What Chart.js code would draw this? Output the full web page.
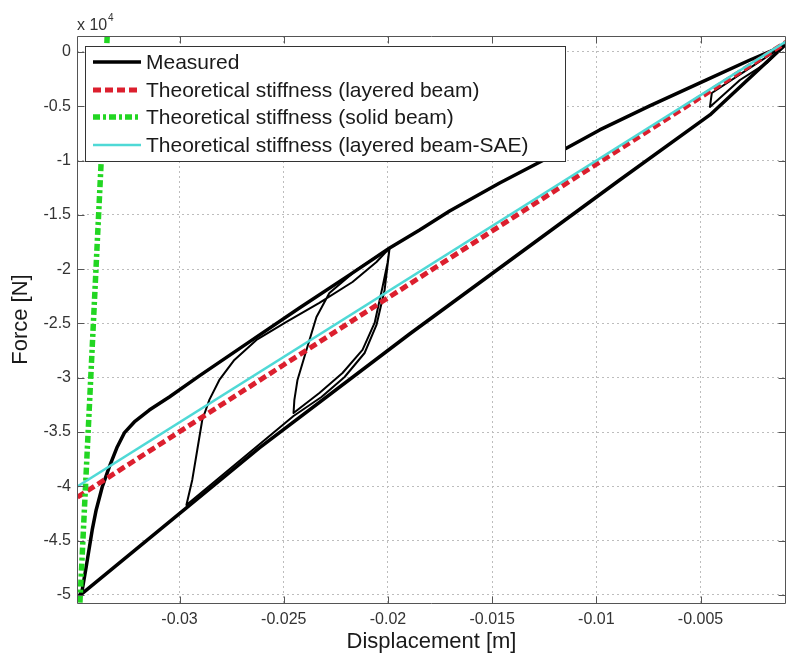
<!DOCTYPE html>
<html>
<head>
<meta charset="utf-8">
<script src="https://cdn.jsdelivr.net/npm/chart.js@4/dist/chart.umd.min.js"></script>
<style>
  html, body { margin: 0; padding: 0; background: #fff; overflow: hidden; }
  #wrap { width: 786px; height: 656px; }
</style>
</head>
<body>
<div id="wrap"><canvas id="c" width="786" height="656"></canvas></div>
<script>
// ---- tick labels ----
const xTicks = [-0.03, -0.025, -0.02, -0.015, -0.01, -0.005];
const yTicks = [0, -0.5, -1, -1.5, -2, -2.5, -3, -3.5, -4, -4.5, -5];

// ---- series labels ----
const seriesLabels = [
  'Measured',
  'Theoretical stiffness (layered beam)',
  'Theoretical stiffness (solid beam)',
  'Theoretical stiffness (layered beam-SAE)'
];

// ---- Measured: outer hysteresis loop (Force in 10^4 N, displacement in m) ----
const measuredOuterX = [-0.00095, -0.00263, -0.00503, -0.00744, -0.00984, -0.01142, -0.01464, -0.01704, -0.01848, -0.01992,
  -0.02184, -0.02425, -0.02665, -0.02905, -0.03049, -0.03145, -0.03217, -0.03265, -0.03299, -0.03337,
  -0.03371, -0.03400, -0.03419, -0.03448, -0.03467, -0.03481,
  -0.02967, -0.02617, -0.01896, -0.00888, -0.00455, -0.00095];
const measuredOuterY = [0.064, -0.074, -0.285, -0.497, -0.718, -0.884, -1.206, -1.464, -1.639, -1.805,
  -2.053, -2.357, -2.670, -2.983, -3.177, -3.297, -3.407, -3.508, -3.637, -3.821,
  -4.006, -4.217, -4.401, -4.742, -4.954, -5.009,
  -4.199, -3.646, -2.597, -1.179, -0.580, 0.064];

// ---- Measured: inner loops (null = pen up) ----
const measuredInnerX = [-0.00095, -0.00182, -0.00311, -0.00455, -0.00446, -0.00263, -0.00095, null,
  -0.01992, -0.02151, -0.02281, -0.02343, -0.02391, -0.02434, -0.02449, -0.02453,
  -0.02329, -0.02218, -0.02122, -0.02064, -0.02026, -0.02002, -0.01992,
  -0.02055, -0.02170, -0.02329, -0.02487, -0.02631, -0.02737, -0.02809, -0.02857, -0.02891, -0.02915, -0.02939, -0.02967,
  -0.02453,
  -0.02319, -0.02208, -0.02112, -0.02055, -0.02016, -0.01992];
const measuredInnerY = [0.064, -0.101, -0.258, -0.506, -0.378, -0.147, 0.064, null,
  -1.805, -2.007, -2.219, -2.440, -2.744, -3.020, -3.204, -3.324,
  -3.140, -2.956, -2.744, -2.495, -2.164, -1.943, -1.805,
  -1.934, -2.118, -2.311, -2.486, -2.652, -2.836, -3.020, -3.204, -3.389, -3.665, -3.941, -4.171,
  -3.352,
  -3.177, -2.993, -2.772, -2.514, -2.192, -1.805];

// ---- Theoretical stiffness lines ----
const layeredX = [-0.0349, -0.0007];
const layeredY = [-4.10, 0.113];
const solidX = [-0.03478, -0.03347];
const solidY = [-5.07, 0.147];
const saeX = [-0.0349, -0.0007];
const saeY = [-4.00, 0.12];

const toPts = (xs, ys) => xs.map((v, i) => ({ x: v, y: ys[i] }));

const FONT = "'Liberation Sans', Arial, Helvetica, sans-serif";

const datasets = [
  { label: seriesLabels[3], data: toPts(saeX, saeY), borderColor: '#4fd9d6', borderWidth: 2.5, legend: true },
  { label: seriesLabels[2], data: toPts(solidX, solidY), borderColor: '#22d622', borderWidth: 5.5, borderDash: [7, 3, 3, 3], legend: true },
  { label: seriesLabels[1], data: toPts(layeredX, layeredY), borderColor: '#dc1f2e', borderWidth: 5, borderDash: [8, 4], legend: true },
  { label: seriesLabels[0] + ' (inner)', data: toPts(measuredInnerX, measuredInnerY), borderColor: '#000', borderWidth: 2, legend: false },
  { label: seriesLabels[0], data: toPts(measuredOuterX, measuredOuterY), borderColor: '#000', borderWidth: 3.5, legend: true }
].map(d => Object.assign({ showLine: true, pointRadius: 0, pointHoverRadius: 0, fill: false, tension: 0, spanGaps: false, borderJoinStyle: 'round' }, d));

const decor = {
  id: 'decor',
  afterDraw(chart) {
    const { ctx, chartArea: a, scales: { x, y } } = chart;
    ctx.save();
    // axes box
    ctx.strokeStyle = '#555';
    ctx.lineWidth = 1;
    ctx.setLineDash([]);
    const L = Math.round(a.left) + 0.5, T = Math.round(a.top) + 0.5, R = Math.round(a.right) - 0.5, B = Math.round(a.bottom) + 0.5;
    ctx.beginPath();
    ctx.moveTo(L, B); ctx.lineTo(L, T); ctx.lineTo(R, T); ctx.lineTo(R, B); ctx.closePath();
    xTicks.forEach(v => {
      const px = Math.round(x.getPixelForValue(v)) + 0.5;
      ctx.moveTo(px, B); ctx.lineTo(px, B - 7);
      ctx.moveTo(px, T); ctx.lineTo(px, T + 7);
    });
    yTicks.forEach(v => {
      const py = Math.round(y.getPixelForValue(v)) + 0.5;
      ctx.moveTo(L, py); ctx.lineTo(L + 7, py);
      ctx.moveTo(R, py); ctx.lineTo(R - 7, py);
    });
    ctx.stroke();

    // exponent label
    ctx.fillStyle = '#333';
    ctx.textBaseline = 'alphabetic';
    ctx.textAlign = 'left';
    ctx.font = '16px ' + FONT;
    ctx.fillText('x 10', 77, 30);
    ctx.font = '10px ' + FONT;
    ctx.fillText('4', 108, 21);

    // legend box
    const bx = 85.5, by = 46.5, bw = 480, bh = 115;
    ctx.fillStyle = '#fff';
    ctx.fillRect(bx, by, bw, bh);
    ctx.strokeStyle = '#333';
    ctx.lineWidth = 1;
    ctx.strokeRect(bx, by, bw, bh);
    const rows = [62, 90, 117, 145];
    seriesLabels.forEach((lab, i) => {
      const ds = chart.data.datasets.find(d => d.label === lab);
      const yy = rows[i];
      ctx.save();
      ctx.strokeStyle = ds.borderColor;
      ctx.lineWidth = ds.borderWidth;
      ctx.setLineDash(ds.borderDash || []);
      ctx.beginPath();
      ctx.moveTo(93, yy); ctx.lineTo(141, yy);
      ctx.stroke();
      ctx.restore();
      ctx.fillStyle = '#1a1a1a';
      ctx.font = '21px ' + FONT;
      ctx.textBaseline = 'middle';
      ctx.textAlign = 'left';
      ctx.fillText(lab, 146, yy + 1);
    });
    ctx.restore();
  }
};

new Chart(document.getElementById('c'), {
  type: 'scatter',
  data: { datasets },
  options: {
    responsive: false,
    animation: false,
    events: [],
    layout: { padding: { top: 36, right: 0, left: 0, bottom: 0 } },
    plugins: { legend: { display: false }, tooltip: { enabled: false } },
    scales: {
      x: {
        type: 'linear',
        min: -0.03492,
        max: -0.0009,
        afterBuildTicks: s => { s.ticks = xTicks.map(v => ({ value: v })); },
        afterFit: s => { s.height = 53; },
        grid: { color: '#bdbdbd', lineWidth: 1, drawTicks: false },
        border: { display: false, dash: [2, 3] },
        ticks: { color: '#333', font: { family: FONT, size: 16 }, padding: 7, maxRotation: 0, autoSkip: false,
                 callback: v => String(v) },
        title: { display: true, text: 'Displacement [m]', color: '#1a1a1a', font: { family: FONT, size: 22 }, padding: { top: 0, bottom: 1 } }
      },
      y: {
        type: 'linear',
        min: -5.074,
        max: 0.147,
        afterBuildTicks: s => { s.ticks = yTicks.map(v => ({ value: v })); },
        afterFit: s => { s.width = 77; },
        grid: { color: '#bdbdbd', lineWidth: 1, drawTicks: false },
        border: { display: false, dash: [2, 3] },
        ticks: { color: '#333', font: { family: FONT, size: 16 }, padding: 6, autoSkip: false,
                 callback: v => String(v) },
        title: { display: true, text: 'Force [N]', color: '#1a1a1a', font: { family: FONT, size: 22 }, padding: { top: 8, bottom: 0 } }
      }
    }
  },
  plugins: [decor]
});
</script>
</body>
</html>
